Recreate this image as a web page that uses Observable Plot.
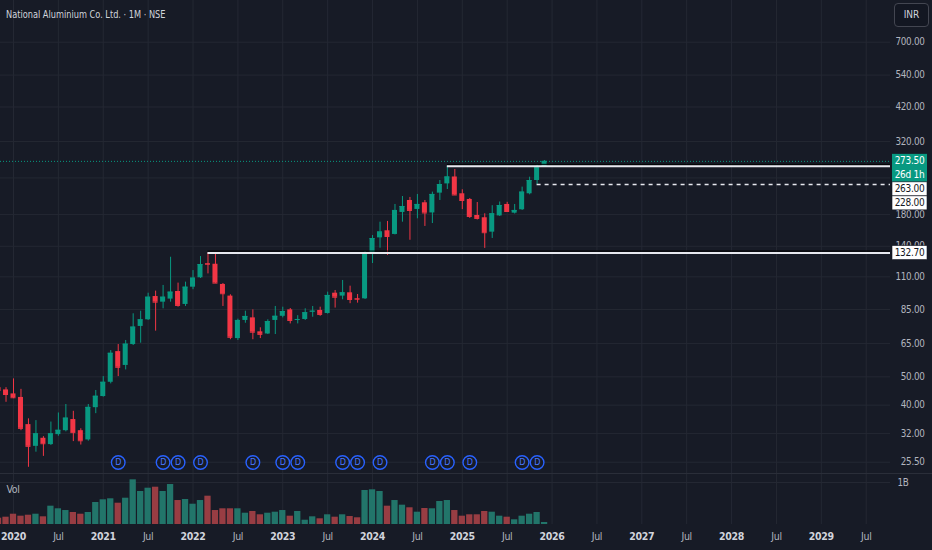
<!DOCTYPE html>
<html><head><meta charset="utf-8">
<script src="https://cdn.jsdelivr.net/npm/d3@7"></script>
<script src="https://cdn.jsdelivr.net/npm/@observablehq/plot@0.6"></script>
<style>
html,body{margin:0;padding:0;background:#171b26;}
#wrap{position:relative;width:932px;height:550px;overflow:hidden;background:#171b26;font-family:"DejaVu Sans Condensed","Liberation Sans Narrow",Roboto,sans-serif;}
#title{position:absolute;left:6px;top:8px;font-size:11px;color:#d1d4dc;white-space:nowrap;z-index:2;transform:scaleX(0.83);transform-origin:0 50%;}
#inr{position:absolute;left:894px;top:3px;width:35px;height:24px;border:1px solid #434651;border-radius:4px;box-sizing:border-box;color:#d1d4dc;font-size:10px;line-height:22px;text-align:center;background:#131722;z-index:2;}
#main{position:absolute;left:0;top:0;}
#vol{position:absolute;left:0;top:473px;}
#sep{position:absolute;left:0;top:473px;width:932px;height:1px;background:#2a2e39;z-index:1;}
</style></head>
<body>
<div id="wrap">
  <div id="main"></div>
  <div id="vol"></div>
  <div id="sep"></div>
  <div id="title">National Aluminium Co. Ltd. · 1M · NSE</div>
  <div id="inr">INR</div>
</div>
<script>
// ---- data (monthly candles, INR) ----
const months = ["2019-11","2019-12",
"2020-01","2020-02","2020-03","2020-04","2020-05","2020-06","2020-07","2020-08","2020-09","2020-10","2020-11","2020-12",
"2021-01","2021-02","2021-03","2021-04","2021-05","2021-06","2021-07","2021-08","2021-09","2021-10","2021-11","2021-12",
"2022-01","2022-02","2022-03","2022-04","2022-05","2022-06","2022-07","2022-08","2022-09","2022-10","2022-11","2022-12",
"2023-01","2023-02","2023-03","2023-04","2023-05","2023-06","2023-07","2023-08","2023-09","2023-10","2023-11","2023-12",
"2024-01","2024-02","2024-03","2024-04","2024-05","2024-06","2024-07","2024-08","2024-09","2024-10","2024-11","2024-12",
"2025-01","2025-02","2025-03","2025-04","2025-05","2025-06","2025-07","2025-08","2025-09","2025-10","2025-11","2025-12"];
const open = [45.9,45.1,
43.7,42.5,34.3,28.9,30.8,29.3,31.7,32.7,35.7,32.7,30.4,39.2,
42.8,47.9,61.0,54.7,64.5,74.4,78.4,94.2,90.1,92.3,98.0,88.5,
101.4,109.2,122.2,121.5,103.6,94.5,67.6,78.0,79.6,71.3,70.1,78.0,
80.6,84.8,78.3,78.6,83.4,84.4,82.4,96.7,94.5,97.0,92.7,92.5,
132.0,149.6,158.2,153.7,182.8,200.9,187.2,197.3,182.1,212.9,229.0,241.8,
211.8,202.5,178.5,175.3,156.5,177.9,194.7,181.8,186.7,211.8,235.2,262.0];
const high = [46.3,45.9,
49.2,45.3,35.9,35.4,31.2,35.0,37.6,40.2,38.1,33.2,40.2,44.9,
50.1,61.5,64.5,66.6,82.2,83.9,96.7,98.3,102.8,128.4,104.7,105.5,
115.6,129.1,132.7,132.2,104.4,95.5,78.8,83.9,84.8,73.6,78.4,87.1,
86.6,85.7,81.0,85.5,87.1,86.6,97.5,98.8,106.9,102.2,95.7,134.3,
152.4,169.3,170.3,194.7,207.3,205.8,210.7,200.9,214.6,235.2,263.0,256.5,
218.6,204.1,197.7,180.9,192.8,198.5,198.0,194.7,223.2,241.4,266.4,275.4];
const low = [44.5,40.9,
42.1,32.7,24.5,27.6,26.7,29.1,31.3,32.4,30.0,29.2,30.1,37.4,
42.6,47.3,50.1,52.8,64.0,65.2,78.0,71.7,85.5,90.1,86.6,87.1,
99.4,108.6,112.6,104.4,87.1,67.0,66.6,76.3,67.0,67.6,69.8,69.8,
79.6,75.9,75.9,78.0,80.0,80.6,82.0,86.0,91.8,89.0,89.4,92.0,
122.2,137.9,130.2,153.1,169.3,146.8,173.9,163.7,167.5,200.9,219.1,209.0,
186.9,174.4,172.3,137.7,148.9,177.1,182.8,180.6,185.7,210.1,228.0,261.5];
const close = [44.9,43.5,
42.4,33.3,28.9,31.9,29.5,31.9,32.8,36.1,32.2,30.2,39.3,42.9,
47.9,60.2,53.9,64.7,74.0,78.4,93.7,90.1,93.7,97.5,87.8,101.4,
108.9,121.2,121.5,104.7,96.3,68.3,78.0,80.5,71.1,69.9,77.3,80.6,
83.7,78.0,78.6,82.9,83.9,81.8,95.0,93.7,97.0,92.0,92.2,132.2,
148.8,156.7,151.2,185.7,191.6,185.7,194.7,182.1,210.7,227.9,241.8,209.8,
200.9,177.1,174.4,155.8,180.9,193.1,184.2,185.7,214.6,235.2,260.0,273.5];
// volume in millions of shares
const volumeM = [150,174,
245,198,221,245,183,436,374,333,286,245,286,524,
588,612,507,626,1064,786,864,888,786,952,571,595,
483,571,674,333,374,374,374,269,310,231,269,293,
333,198,310,102,183,136,231,174,231,190,160,810,
826,786,436,571,460,398,293,381,374,548,571,333,
198,231,231,310,293,198,174,112,198,245,286,48];
const dividendMonths = ["2021-03","2021-09","2021-11","2022-02","2022-09","2023-01","2023-03","2023-09","2023-11","2024-02","2024-09","2024-11","2025-02","2025-09","2025-11"];
const priceTicks = [25.5,32,40,50,65,85,110,140,180,240,320,420,540,700];
const currentPrice = 273.5;
const countdown = "26d 1h";
const levels = [ {price:263.0, from:"2024-11", dashed:false}, {price:228.0, from:"2025-11", dashed:true}, {price:132.7, from:"2022-03", dashed:false} ];
const firstYear = 2020, lastTickYear = 2029;

// ---- helpers ----
const idx = m => { const [y, mo] = m.split("-").map(Number); return (y - firstYear) * 12 + mo - 1; };
const candles = months.map((m, k) => ({
  i: idx(m), open: open[k], high: high[k], low: low[k], close: close[k],
  volume: volumeM[k] * 1e6, up: close[k] >= open[k]
}));
const divIdx = dividendMonths.map(idx);
const xTicks = d3.range(0, (lastTickYear - firstYear) * 12 + 7, 6);
const yearTicks = xTicks.filter(t => t % 12 === 0);
const julTicks = xTicks.filter(t => t % 12 === 6);

// ---- layout / style ----
const FONT = '"DejaVu Sans Condensed","Liberation Sans Narrow",Roboto,sans-serif';
const W = 932, FR = 890, PX0 = 13, PXM = 7.48;
const xDom = [(0 - PX0) / PXM, (FR - PX0) / PXM];
const UP = "#089981", DN = "#f23645", VUP = "#22756a", VDN = "#983d43";
const GRID = "#242833", TXT = "#b2b5be";
const MAIN_H = 473;
const yTop = 700 * Math.exp(41.7 / 126.8), yBot = 700 * Math.exp(-(MAIN_H - 41.7) / 126.8);
const yOpts = {type: "log", domain: [yBot, yTop], range: [MAIN_H, 0], axis: null, label: null};
const bw = 0.335;
const fmt = d3.format(".2f");

// right-hand price labels, stacked so they do not overlap (as on the original)
const yS = Plot.scale({y: yOpts});
const labels = [
  {price: currentPrice, lines: [fmt(currentPrice), countdown], fill: UP, color: "#ffffff"},
  ...levels.map(l => ({price: l.price, lines: [fmt(l.price)], fill: "#ffffff", color: "#131722"}))
].sort((a, b) => b.price - a.price);
let prevBottom = -Infinity;
for (const L of labels) {
  L.h = 14 * L.lines.length;
  L.top = Math.max(yS.apply(L.price) - 7, prevBottom);
  prevBottom = L.top + L.h;
}
// tick labels fully covered by a price label are not drawn
const tickLabels = priceTicks.filter(t => {
  const y = yS.apply(t);
  return !labels.some(L => y - 4 >= L.top && y + 4 <= L.top + L.h);
});

const main = Plot.plot({
  width: W, height: MAIN_H, marginLeft: 0, marginRight: W - FR, marginTop: 0, marginBottom: 0,
  style: {background: "transparent", color: TXT, fontFamily: FONT, fontSize: "10px", overflow: "visible", letterSpacing: "-0.3px"},
  x: {type: "linear", domain: xDom, range: [0, FR], axis: null, label: null},
  y: yOpts,
  color: {type: "identity"},
  marks: [
    Plot.gridX(xTicks, {stroke: GRID, strokeOpacity: 1}),
    Plot.gridY(priceTicks, {stroke: GRID, strokeOpacity: 1}),
    Plot.text(tickLabels, {y: d => d, frameAnchor: "right", dx: 34, textAnchor: "end", text: d => fmt(d), fill: TXT, fontSize: 9.8}),
    Plot.ruleY([currentPrice], {stroke: UP, strokeDasharray: "1,2", strokeWidth: 1}),
    Plot.ruleX(candles, {x: "i", y1: "low", y2: "high", stroke: d => d.up ? UP : DN, strokeWidth: 1}),
    Plot.rect(candles, {x1: d => d.i - bw, x2: d => d.i + bw, y1: "open", y2: "close", fill: d => d.up ? UP : DN}),
    Plot.ruleY(candles, {y: "close", x1: d => d.i - bw, x2: d => d.i + bw, stroke: d => d.up ? UP : DN, strokeWidth: 1}),
    // levels
    Plot.ruleY(levels.filter(l => !l.dashed), {y: "price", x1: l => idx(l.from), x2: () => xDom[1], stroke: "#000", strokeWidth: 1, dy: -2}),
    Plot.ruleY(levels.filter(l => !l.dashed), {y: "price", x1: l => idx(l.from), x2: () => xDom[1], stroke: "#e6e8ee", strokeWidth: 2}),
    Plot.ruleY(levels.filter(l => l.dashed), {y: "price", x1: l => idx(l.from), x2: () => xDom[1], stroke: "#e6e8ee", strokeWidth: 1.6, strokeDasharray: "4,4"}),
    // dividends
    Plot.dot(divIdx, {x: d => d, frameAnchor: "bottom", dy: -11, r: 6.8, stroke: "#2962ff", strokeWidth: 1.4, fill: "#171b26"}),
    Plot.text(divIdx, {x: d => d, frameAnchor: "bottom", dy: -11, lineAnchor: "middle", text: () => "D", fill: "#4a78ff", fontSize: 9, fontFamily: FONT})
  ]
});
document.getElementById("main").appendChild(main);

const ys = main.scale("y");
const g = d3.select(main).append("g").attr("font-family", FONT).attr("font-size", 10).attr("letter-spacing", "-0.3px");
for (const L of labels) {
  g.append("rect").attr("x", 892).attr("y", L.top).attr("width", 35).attr("height", L.h)
    .attr("fill", L.fill).attr("stroke", L.fill === "#ffffff" ? "#131722" : "none").attr("stroke-width", 0.6);
  L.lines.forEach((t, k) => {
    g.append("text").attr("x", 909.5).attr("y", L.top + 7 + 14 * k).attr("dy", "0.35em")
      .attr("text-anchor", "middle").attr("fill", L.color).text(t);
  });
}

const VH = 550 - MAIN_H;
const vol = Plot.plot({
  width: W, height: VH, marginLeft: 0, marginRight: W - FR, marginTop: 0, marginBottom: 26,
  style: {background: "transparent", color: TXT, fontFamily: FONT, fontSize: "10px", overflow: "visible", letterSpacing: "-0.3px"},
  x: {type: "linear", domain: xDom, range: [0, FR], axis: null, label: null},
  y: {type: "linear", domain: [0, 1e9 * 51 / 42], range: [51, 0], axis: null, label: null},
  color: {type: "identity"},
  marks: [
    Plot.gridX(xTicks, {stroke: GRID, strokeOpacity: 1}),
    Plot.gridY([1e9], {stroke: GRID, strokeOpacity: 1}),
    Plot.rect(candles, {x1: d => d.i - 0.42, x2: d => d.i + 0.42, y1: 0, y2: "volume", fill: d => d.up ? VUP : VDN}),
    Plot.text([1e9], {y: d => d, frameAnchor: "right", dx: 7, textAnchor: "start", text: () => "1B", fill: TXT, fontSize: 9.8}),
    Plot.axisX(yearTicks, {anchor: "bottom", tickSize: 0, tickPadding: 8, tickFormat: t => String(firstYear + t / 12), fill: "#d1d4dc", fontWeight: "bold", fontSize: 10.5, label: null}),
    Plot.axisX(julTicks, {anchor: "bottom", tickSize: 0, tickPadding: 8, tickFormat: () => "Jul", fill: TXT, fontSize: 10.5, label: null}),
    Plot.text(["Vol"], {frameAnchor: "top-left", dx: 6, dy: 16, lineAnchor: "middle", text: d => d, fill: TXT, fontSize: 10.5, fontFamily: FONT})
  ]
});
document.getElementById("vol").appendChild(vol);
</script>
</body></html>
